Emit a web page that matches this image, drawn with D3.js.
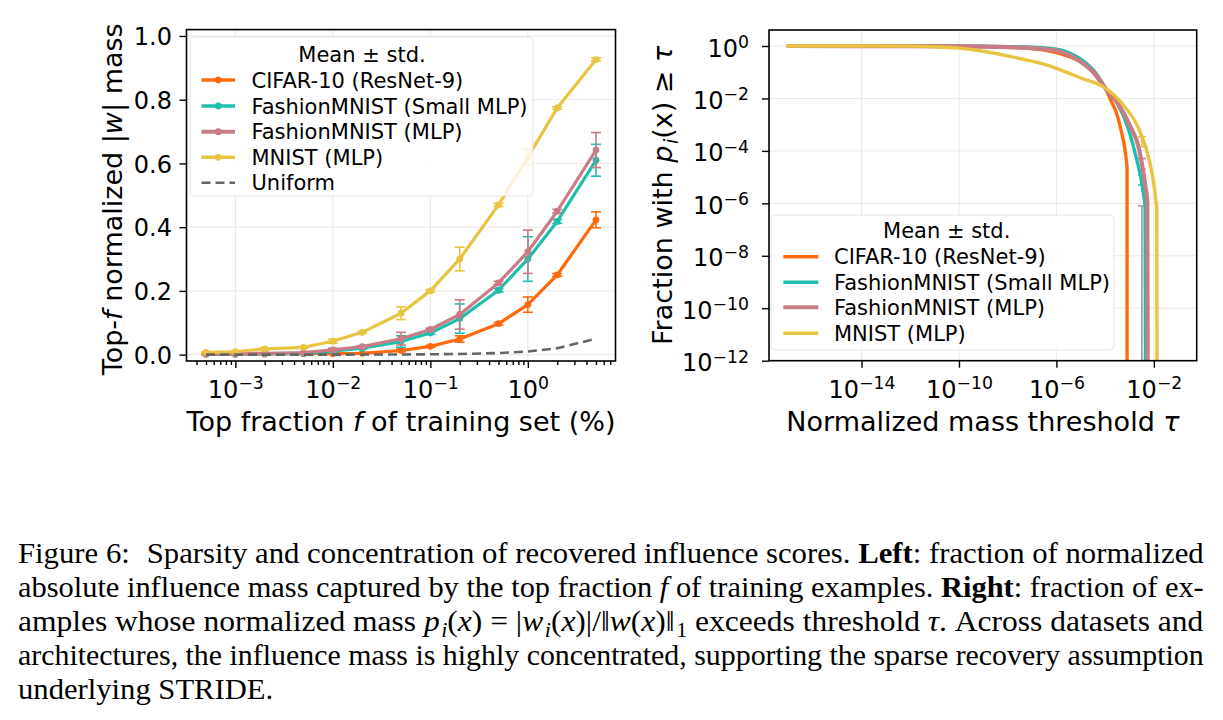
<!DOCTYPE html>
<html>
<head>
<meta charset="utf-8">
<script src="https://cdn.jsdelivr.net/npm/d3@7"></script>
<style>
  body { margin: 0; background: #fff; }
  svg text { font-family: "DejaVu Sans", sans-serif; }
  svg text.cap { font-family: "Liberation Serif", "Times New Roman", serif; }
</style>
</head>
<body>
<script>
// ---- data: left panel (top-f mass) ----
var fracPct = [0.0005, 0.001, 0.002, 0.005, 0.01, 0.02, 0.05, 0.1, 0.2, 0.5, 1, 2, 5];
var cifarMass = [0.001, 0.001, 0.002, 0.003, 0.003, 0.004, 0.013, 0.026, 0.049, 0.097, 0.157, 0.25, 0.423];
var cifarStd = [0.001, 0.001, 0.001, 0.001, 0.001, 0.002, 0.004, 0.003, 0.01, 0.004, 0.024, 0.004, 0.025];
var fmSmallMass = [0.002, 0.002, 0.003, 0.004, 0.011, 0.02, 0.041, 0.068, 0.113, 0.202, 0.30, 0.418, 0.61];
var fmSmallStd = [0.001, 0.001, 0.001, 0.002, 0.004, 0.003, 0.018, 0.004, 0.046, 0.005, 0.07, 0.006, 0.05];
var fmMlpMass = [0.003, 0.003, 0.004, 0.006, 0.015, 0.025, 0.05, 0.079, 0.126, 0.225, 0.323, 0.45, 0.642];
var fmMlpStd = [0.001, 0.001, 0.001, 0.002, 0.005, 0.003, 0.02, 0.004, 0.046, 0.005, 0.068, 0.006, 0.055];
var mnistMass = [0.007, 0.009, 0.018, 0.023, 0.042, 0.07, 0.13, 0.20, 0.30, 0.47, 0.62, 0.774, 0.926];
var mnistStd = [0.002, 0.002, 0.003, 0.003, 0.006, 0.003, 0.02, 0.004, 0.037, 0.005, 0.026, 0.004, 0.005];
var uniformMass = [0.000005, 0.00001, 0.00002, 0.00005, 0.0001, 0.0002, 0.0005, 0.001, 0.002, 0.005, 0.01, 0.02, 0.05];

// ---- data: right panel (log10 tau, log10 fraction) ----
var cifarTauLog = [-17.07, -11, -10, -9, -8, -7, -6, -5.5, -5, -4.5, -4, -3.75, -3.5, -3.3, -3.2, -3.1, -3.1];
var cifarFracLog = [0, -0.003, -0.008, -0.02, -0.04, -0.1, -0.25, -0.4, -0.6, -0.92, -1.6, -2.1, -2.65, -3.4, -3.85, -4.6, -14];
var fmSmallTauLog = [-17.07, -11, -10, -9, -8, -7, -6, -5.5, -5, -4.5, -4, -3.5, -3.25, -3, -2.75, -2.5, -2.36, -2.34];
var fmSmallFracLog = [0, -0.002, -0.005, -0.012, -0.025, -0.05, -0.12, -0.25, -0.5, -0.9, -1.57, -2.2, -2.65, -3.3, -4.15, -5.2, -6.05, -14];
var fmMlpTauLog = [-17.07, -12, -10, -9, -8, -7, -6, -5.5, -5, -4.5, -4, -3.5, -3, -2.6, -2.4, -2.27, -2.25];
var fmMlpFracLog = [0, -0.005, -0.015, -0.025, -0.045, -0.08, -0.17, -0.33, -0.6, -0.98, -1.6, -2.15, -3.0, -3.95, -5.0, -5.85, -14];
var mnistTauLog = [-17.07, -12, -11, -10, -9, -8, -7, -6, -5, -4, -3.3, -2.6, -2.2, -1.95, -1.88, -1.87];
var mnistFracLog = [0, -0.005, -0.03, -0.08, -0.2, -0.38, -0.58, -0.85, -1.22, -1.6, -2.2, -3.2, -4.3, -5.6, -6.2, -14];
var errTauLog = -2.49;
var errLoLog = [-14, -5.3, -4.7, -3.84];
var errHiLog = [-6.1, -4.92, -4.29, -3.46];

var seriesNames = ["CIFAR-10 (ResNet-9)", "FashionMNIST (Small MLP)", "FashionMNIST (MLP)", "MNIST (MLP)"];
var seriesColors = ["#ff6a0d", "#1cbfae", "#c97c85", "#e8c440"];
var errColors = ["#999999", "#1cbfae", "#c97c85", "#e8c440"];

var W = 1223, H = 720;
var svg = d3.select("body").append("svg").attr("width", W).attr("height", H);
svg.append("rect").attr("width", W).attr("height", H).attr("fill", "#fff");

// helper: add rich text segments {t, it, b, sub, dx}
function rich(textSel, segs, subSize, subShift) {
	var shifted = false;
	segs.forEach(function(s) {
		var ts = textSel.append("tspan").text(s.t);
		if (s.it) ts.attr("font-style", "italic");
		if (s.b) ts.attr("font-weight", "bold");
		if (s.dx) ts.attr("dx", s.dx);
		if (s.sub && !shifted) { ts.attr("dy", subShift).attr("font-size", subSize); shifted = true; }
		else if (s.sub) { ts.attr("font-size", subSize); }
		else if (shifted) { ts.attr("dy", -subShift); shifted = false; }
	});
}

function pow10Label(sel, e) {
	sel.text(null);
	sel.append("tspan").text("10");
	sel.append("tspan").attr("dy", "-0.5em").attr("font-size", "0.72em")
		.text(e < 0 ? "\u2212" + (-e) : String(e));
}

function legend(g, x, y, w, h, titleX, titleY, rows, handleX0, handleX1, textX, markers, withUniform) {
	g.append("rect").attr("x", x).attr("y", y).attr("width", w).attr("height", h)
		.attr("rx", 4).attr("fill", "#fff").attr("fill-opacity", 0.8)
		.attr("stroke", "#dddddd").attr("stroke-opacity", 0.8);
	g.append("text").attr("x", titleX).attr("y", titleY).attr("dy", "0.36em")
		.attr("text-anchor", "middle").attr("font-size", 21).text("Mean \u00b1 std.");
	seriesNames.forEach(function(n, i) {
		g.append("line").attr("x1", handleX0).attr("x2", handleX1).attr("y1", rows[i]).attr("y2", rows[i])
			.attr("stroke", seriesColors[i]).attr("stroke-width", i == 2 ? 4 : 3.5);
		if (markers) g.append("circle").attr("cx", (handleX0 + handleX1) / 2).attr("cy", rows[i]).attr("r", 3.4).attr("fill", seriesColors[i]);
		g.append("text").attr("x", textX).attr("y", rows[i]).attr("dy", "0.36em").attr("font-size", 21).text(n);
	});
	if (withUniform) {
		g.append("line").attr("x1", handleX0).attr("x2", handleX1).attr("y1", rows[4]).attr("y2", rows[4])
			.attr("stroke", "#666").attr("stroke-width", 2.6).attr("stroke-dasharray", "9,5");
		g.append("text").attr("x", textX).attr("y", rows[4]).attr("dy", "0.36em").attr("font-size", 21).text("Uniform");
	}
}

// ================= LEFT PANEL =================
var L = { x0: 186.5, x1: 615.5, y0: 361, y1: 29.6 };
var xL = d3.scaleLog().domain([Math.pow(10, -3.501), Math.pow(10, 0.899)]).range([L.x0, L.x1]);
var yL = d3.scaleLinear().domain([-0.02, 1.02]).range([L.y0, L.y1]);
var left = svg.append("g");

var xMajL = [1e-3, 1e-2, 1e-1, 1];
var yMajL = [0, 0.2, 0.4, 0.6, 0.8, 1.0];
var xMinL = [];
[-4, -3, -2, -1, 0].forEach(function(k) {
	for (var m = 2; m <= 9; m++) {
		var v = m * Math.pow(10, k);
		if (v > xL.domain()[0] && v < xL.domain()[1]) xMinL.push(v);
	}
});

// grid
left.selectAll(".gx").data(xMajL).enter().append("line")
	.attr("x1", xL).attr("x2", xL).attr("y1", L.y0).attr("y2", L.y1)
	.attr("stroke", "#e8e8e8").attr("stroke-width", 1);
left.selectAll(".gy").data(yMajL).enter().append("line")
	.attr("x1", L.x0).attr("x2", L.x1).attr("y1", yL).attr("y2", yL)
	.attr("stroke", "#e8e8e8").attr("stroke-width", 1);

var leftSeries = [
	{ v: cifarMass, e: cifarStd },
	{ v: fmSmallMass, e: fmSmallStd },
	{ v: fmMlpMass, e: fmMlpStd },
	{ v: mnistMass, e: mnistStd }
];
var lineL = d3.line().x(function(d) { return xL(d[0]); }).y(function(d) { return yL(d[1]); });

leftSeries.forEach(function(s, i) {
	var pts = fracPct.map(function(f, j) { return [f, s.v[j], s.e[j]]; });
	var g = left.append("g");
	g.append("path").datum(pts).attr("d", lineL).attr("fill", "none")
		.attr("stroke", seriesColors[i]).attr("stroke-width", 3.2).attr("stroke-linejoin", "round");
	g.selectAll(".eb").data(pts).enter().append("line")
		.attr("x1", function(d) { return xL(d[0]); }).attr("x2", function(d) { return xL(d[0]); })
		.attr("y1", function(d) { return yL(d[1] - d[2]); }).attr("y2", function(d) { return yL(d[1] + d[2]); })
		.attr("stroke", seriesColors[i]).attr("stroke-width", 1.6);
	[-1, 1].forEach(function(sg) {
		g.selectAll(".cap" + sg).data(pts).enter().append("line")
			.attr("x1", function(d) { return xL(d[0]) - 5; }).attr("x2", function(d) { return xL(d[0]) + 5; })
			.attr("y1", function(d) { return yL(d[1] + sg * d[2]); }).attr("y2", function(d) { return yL(d[1] + sg * d[2]); })
			.attr("stroke", seriesColors[i]).attr("stroke-width", 1.6);
	});
	g.selectAll("circle").data(pts).enter().append("circle")
		.attr("cx", function(d) { return xL(d[0]); }).attr("cy", function(d) { return yL(d[1]); })
		.attr("r", 3.4).attr("fill", seriesColors[i]);
});
left.append("path").datum(fracPct.map(function(f, j) { return [f, uniformMass[j]]; }))
	.attr("d", lineL).attr("fill", "none").attr("stroke", "#666").attr("stroke-width", 2.6)
	.attr("stroke-dasharray", "9,5");

legend(left.append("g"), 190, 37, 343, 159, 362, 54.5, [80, 106, 131.7, 157.3, 182.7], 201.5, 235, 251.5, true, true);

// axes
var axBL = left.append("g").attr("transform", "translate(0," + L.y0 + ")")
	.call(d3.axisBottom(xL).tickValues(xMajL).tickSize(7).tickFormat(function() { return ""; }));
axBL.selectAll(".tick text").attr("y", 37).attr("dy", null).attr("font-size", 24)
	.each(function(d) { pow10Label(d3.select(this), Math.round(Math.log10(d))); });
left.append("g").attr("transform", "translate(0," + L.y0 + ")")
	.call(d3.axisBottom(xL).tickValues(xMinL).tickSize(4).tickFormat(function() { return ""; }))
	.call(function(g) { g.select(".domain").remove(); });
left.append("g").attr("transform", "translate(" + L.x0 + ",0)")
	.call(d3.axisLeft(yL).tickValues(yMajL).tickSize(7).tickFormat(d3.format(".1f")))
	.selectAll(".tick text").attr("x", -14.5).attr("dy", "0.36em").attr("font-size", 24);
left.selectAll(".domain").remove();
left.append("rect").attr("x", L.x0).attr("y", L.y1).attr("width", L.x1 - L.x0).attr("height", L.y0 - L.y1)
	.attr("fill", "none").attr("stroke", "#000").attr("stroke-width", 1.6);
left.selectAll(".tick line").attr("stroke", "#000").attr("stroke-width", 1.4);
left.selectAll(".tick text").attr("fill", "#000").attr("font-family", "DejaVu Sans");

rich(left.append("text").attr("x", 401).attr("y", 431).attr("text-anchor", "middle").attr("font-size", 27),
	[{ t: "Top fraction " }, { t: "f", it: true }, { t: " of training set (%)" }], 19, 6);
rich(left.append("text").attr("transform", "translate(122," + ((L.y0 + L.y1) / 2 + 4) + ") rotate(-90)")
	.attr("text-anchor", "middle").attr("font-size", 27),
	[{ t: "Top-" }, { t: "f", it: true }, { t: " normalized |" }, { t: "w", it: true }, { t: "| mass" }], 19, 6);

// ================= RIGHT PANEL =================
var R = { x0: 769, x1: 1196.7, y0: 360.7, y1: 30 };
var xR = d3.scaleLog().domain([Math.pow(10, -17.8), Math.pow(10, -0.24)]).range([R.x0, R.x1]);
var yR = d3.scaleLog().domain([1e-12, Math.pow(10, 0.61)]).range([R.y0, R.y1]);
var right = svg.append("g");
svg.append("clipPath").attr("id", "clipR").append("rect")
	.attr("x", R.x0).attr("y", R.y1).attr("width", R.x1 - R.x0).attr("height", R.y0 - R.y1);

var xMajR = [1e-14, 1e-10, 1e-6, 1e-2];
var yMajR = [1, 1e-2, 1e-4, 1e-6, 1e-8, 1e-10, 1e-12];
right.selectAll(".gx").data(xMajR).enter().append("line")
	.attr("x1", xR).attr("x2", xR).attr("y1", R.y0).attr("y2", R.y1)
	.attr("stroke", "#e8e8e8").attr("stroke-width", 1);
right.selectAll(".gy").data(yMajR).enter().append("line")
	.attr("x1", R.x0).attr("x2", R.x1).attr("y1", yR).attr("y2", yR)
	.attr("stroke", "#e8e8e8").attr("stroke-width", 1);

var rightSeries = [
	[cifarTauLog, cifarFracLog],
	[fmSmallTauLog, fmSmallFracLog],
	[fmMlpTauLog, fmMlpFracLog],
	[mnistTauLog, mnistFracLog]
];
var lineR = d3.line().curve(d3.curveMonotoneX)
	.x(function(d) { return xR(Math.pow(10, d[0])); }).y(function(d) { return yR(Math.pow(10, d[1])); });
var plotR = right.append("g").attr("clip-path", "url(#clipR)");

// error bars at one threshold
var errX = xR(Math.pow(10, errTauLog));
errLoLog.forEach(function(lo, i) {
	plotR.append("line").attr("x1", errX).attr("x2", errX)
		.attr("y1", yR(Math.pow(10, lo))).attr("y2", yR(Math.pow(10, errHiLog[i])))
		.attr("stroke", errColors[i]).attr("stroke-width", 1.6);
	[lo, errHiLog[i]].forEach(function(v) {
		plotR.append("line").attr("x1", errX - 4).attr("x2", errX + 4)
			.attr("y1", yR(Math.pow(10, v))).attr("y2", yR(Math.pow(10, v)))
			.attr("stroke", errColors[i]).attr("stroke-width", 1.4);
	});
});

rightSeries.forEach(function(s, i) {
	var pts = s[0].map(function(t, j) { return [t, s[1][j]]; });
	// keep the final vertical drop straight
	var curvePts = pts.slice(0, pts.length - 1);
	var last = pts[pts.length - 1];
	var d = lineR(curvePts) + "L" + xR(Math.pow(10, last[0])) + "," + (R.y0 + 20);
	plotR.append("path").attr("d", d).attr("fill", "none")
		.attr("stroke", seriesColors[i]).attr("stroke-width", i == 2 ? 4.2 : 3.4).attr("stroke-linejoin", "round");
});

legend(right.append("g"), 771, 215, 343, 135, 946.7, 230, [256.7, 282.3, 307.3, 333.3], 783.3, 818.3, 834, false, false);

var axBR = right.append("g").attr("transform", "translate(0," + R.y0 + ")")
	.call(d3.axisBottom(xR).tickValues(xMajR).tickSize(7).tickFormat(function() { return ""; }));
axBR.selectAll(".tick text").attr("y", 37).attr("dy", null).attr("font-size", 24)
	.each(function(d) { pow10Label(d3.select(this), Math.round(Math.log10(d))); });
var axLR = right.append("g").attr("transform", "translate(" + R.x0 + ",0)")
	.call(d3.axisLeft(yR).tickValues(yMajR).tickSize(7).tickFormat(function() { return ""; }));
axLR.selectAll(".tick text").attr("x", -20).attr("dy", "0.42em").attr("font-size", 24)
	.each(function(d) { pow10Label(d3.select(this), Math.round(Math.log10(d))); });
right.selectAll(".domain").remove();
right.append("rect").attr("x", R.x0).attr("y", R.y1).attr("width", R.x1 - R.x0).attr("height", R.y0 - R.y1)
	.attr("fill", "none").attr("stroke", "#000").attr("stroke-width", 1.6);
right.selectAll(".tick line").attr("stroke", "#000").attr("stroke-width", 1.4);
right.selectAll(".tick text").attr("fill", "#000").attr("font-family", "DejaVu Sans");

rich(right.append("text").attr("x", 983).attr("y", 431).attr("text-anchor", "middle").attr("font-size", 27),
	[{ t: "Normalized mass threshold " }, { t: "\u03c4", it: true }], 19, 6);
rich(right.append("text").attr("transform", "translate(672," + ((R.y0 + R.y1) / 2) + ") rotate(-90)")
	.attr("text-anchor", "middle").attr("font-size", 27),
	[{ t: "Fraction with " }, { t: "p", it: true }, { t: "i", it: true, sub: true, dx: 1.5 }, { t: "(x) \u2265 " }, { t: "\u03c4", it: true }], 19, 6);

// ================= CAPTION =================
var capLines = [
	[{ t: "Figure 6:" }, { t: " Sparsity and concentration of recovered influence scores. ", dx: 9 }, { t: "Left", b: true }, { t: ": fraction of normalized" }],
	[{ t: "absolute influence mass captured by the top fraction " }, { t: "f", it: true }, { t: " of training examples. " }, { t: "Right", b: true }, { t: ": fraction of ex-" }],
	[{ t: "amples whose normalized mass " }, { t: "p", it: true }, { t: "i", it: true, sub: true, dx: 1.5 }, { t: "(" }, { t: "x", it: true }, { t: ") = |" },
	 { t: "w", it: true }, { t: "i", it: true, sub: true, dx: 1.5 }, { t: "(" }, { t: "x", it: true }, { t: ")|/\u2016" }, { t: "w", it: true }, { t: "(" },
	 { t: "x", it: true }, { t: ")\u2016" }, { t: "1", sub: true, dx: 1.5 }, { t: " exceeds threshold " }, { t: "\u03c4", it: true }, { t: ". Across datasets and" }],
	[{ t: "architectures, the influence mass is highly concentrated, supporting the sparse recovery assumption" }],
	[{ t: "underlying STRIDE." }]
];
var capBase = [563, 597, 631, 665, 699];
var capX0 = 18, capX1 = 1204;
var capScales = [];
var capNodes = [];
capLines.forEach(function(segs, i) {
	var g = svg.append("g");
	var t = g.append("text").attr("class", "cap").attr("x", 0).attr("y", capBase[i]).attr("font-size", 30);
	rich(t, segs, 21, 6);
	var w = t.node().getBBox().width;
	capNodes.push(g);
	if (i < capLines.length - 1) capScales.push((capX1 - capX0) / w);
});
var meanScale = d3.mean(capScales);
capNodes.forEach(function(g, i) {
	var s = i < capScales.length ? capScales[i] : meanScale;
	g.attr("transform", "translate(" + capX0 + ",0) scale(" + s + ",1)");
});
</script>
</body>
</html>
